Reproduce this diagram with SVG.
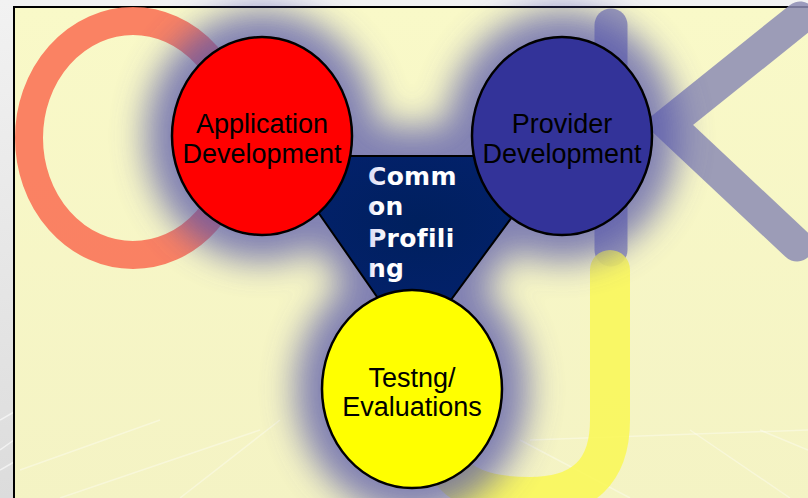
<svg xmlns="http://www.w3.org/2000/svg" width="808" height="498" viewBox="0 0 808 498">
  <defs>
    <linearGradient id="outerBg" x1="0" y1="0" x2="0" y2="1">
      <stop offset="0" stop-color="#f2f2f2"/>
      <stop offset="1" stop-color="#dcdcdc"/>
    </linearGradient>
    <linearGradient id="panelBg" x1="0" y1="0" x2="0" y2="1">
      <stop offset="0" stop-color="#f9f9c8"/>
      <stop offset="1" stop-color="#f4f3c4"/>
    </linearGradient>
    <radialGradient id="triFill" cx="0.5" cy="0.35" r="0.7">
      <stop offset="0" stop-color="#00205e"/>
      <stop offset="0.7" stop-color="#03216c"/>
      <stop offset="1" stop-color="#0a1a8c"/>
    </radialGradient>
    <linearGradient id="txtFill" x1="0" y1="0" x2="1" y2="0">
      <stop offset="0" stop-color="#d8d8f4"/>
      <stop offset="0.25" stop-color="#ffffff"/>
      <stop offset="1" stop-color="#ffffff"/>
    </linearGradient>
    <filter id="blur" x="-40%" y="-40%" width="180%" height="180%">
      <feGaussianBlur stdDeviation="17"/>
    </filter>
    <style>
      .node { stroke: #000; stroke-width: 2.5; }
      .lbl { font-family: "Liberation Sans", Arial, sans-serif; font-size: 27px; fill: #000; text-anchor: middle; }
      .prof { font-family: "DejaVu Sans", Verdana, sans-serif; font-weight: bold; font-size: 25px; letter-spacing: 0.3px; fill: url(#txtFill); }
      .glow { fill: #5050aa; stroke: #5050aa; }
    </style>
  </defs>

  <!-- background -->
  <rect x="0" y="0" width="808" height="498" fill="url(#outerBg)"/>
  <g stroke="#ffffff" stroke-opacity="0.6" stroke-width="1.5">
    <line x1="0" y1="420" x2="14" y2="412"/>
    <line x1="0" y1="450" x2="14" y2="440"/>
    <line x1="0" y1="470" x2="14" y2="462"/>
  </g>
  <rect x="14" y="7" width="810" height="500" fill="url(#panelBg)" stroke="#000" stroke-width="2"/>
  <g stroke="#ffffff" stroke-opacity="0.35" stroke-width="1.5" fill="none">
    <line x1="20" y1="470" x2="160" y2="420"/>
    <line x1="60" y1="498" x2="260" y2="430"/>
    <line x1="180" y1="498" x2="280" y2="420"/>
    <line x1="520" y1="440" x2="630" y2="498"/>
    <line x1="690" y1="430" x2="790" y2="498"/>
    <line x1="760" y1="430" x2="808" y2="450"/>
    <line x1="530" y1="440" x2="808" y2="430"/>
  </g>

  <!-- background letters O K J -->
  <g id="letters" fill="none">
    <ellipse cx="133" cy="138" rx="104" ry="117" stroke="#fa7458" stroke-opacity="0.9" stroke-width="28"/>
    <line x1="611" y1="25" x2="611" y2="250" stroke="#8c8cb4" stroke-opacity="0.85" stroke-width="33" stroke-linecap="round"/>
    <polyline points="800,18 668,124 797,245" stroke="#8c8cb4" stroke-opacity="0.85" stroke-width="33" stroke-linecap="round" stroke-linejoin="miter"/>
    <path d="M 610 270 L 610 420 Q 610 497 530 497 Q 470 497 450 470" stroke="#f9f75a" stroke-opacity="0.9" stroke-width="40" stroke-linecap="round"/>
  </g>

  <!-- glow -->
  <g id="glow" filter="url(#blur)" opacity="0.7">
    <polygon class="glow" points="279,148 557,148 414,350" stroke-width="44" stroke-linejoin="round"/>
    <ellipse class="glow" cx="262" cy="136" rx="116" ry="125"/>
    <ellipse class="glow" cx="562" cy="136" rx="116" ry="125"/>
    <ellipse class="glow" cx="412" cy="389" rx="116" ry="125"/>
  </g>

  <g id="connectors"></g>

  <g id="profiling">
    <polygon points="279,156 557,156 414,350" fill="url(#triFill)" stroke="#000" stroke-width="2"/>
    <text class="prof" x="368" y="185">Comm</text>
    <text class="prof" x="368" y="215">on</text>
    <text class="prof" x="368" y="247">Profili</text>
    <text class="prof" x="368" y="277">ng</text>
  </g>

  <g id="application">
    <ellipse class="node" cx="262" cy="136" rx="90" ry="99" fill="#ff0000"/>
    <text class="lbl" x="262" y="133">Application</text>
    <text class="lbl" x="262" y="163">Development</text>
  </g>

  <g id="provider">
    <ellipse class="node" cx="562" cy="136" rx="90" ry="99" fill="#333399"/>
    <text class="lbl" x="562" y="133">Provider</text>
    <text class="lbl" x="562" y="163">Development</text>
  </g>

  <g id="testing">
    <ellipse class="node" cx="412" cy="389" rx="90" ry="99" fill="#ffff00"/>
    <text class="lbl" x="412" y="387">Testng/</text>
    <text class="lbl" x="412" y="416">Evaluations</text>
  </g>
</svg>
